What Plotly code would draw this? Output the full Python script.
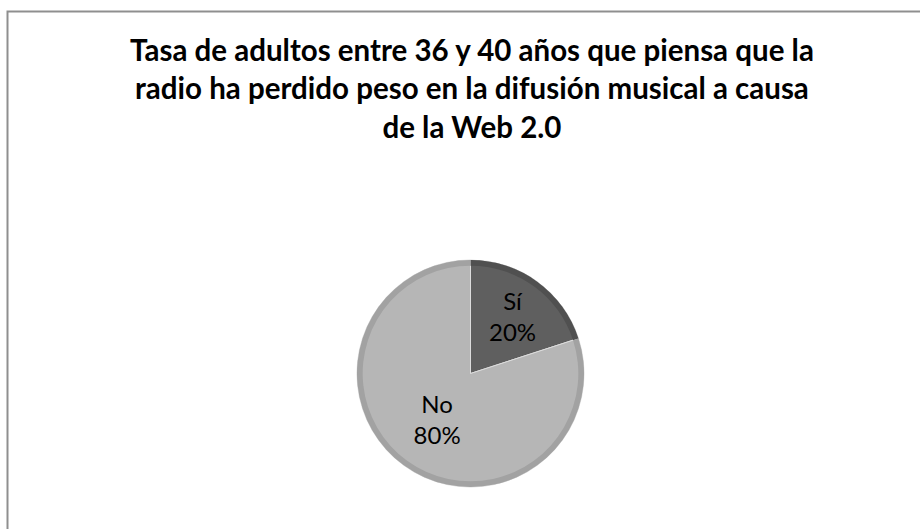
import plotly.graph_objects as go

# Survey answers: adults aged 36-40
respuestas = ["Sí", "No"]
porcentajes = [20, 80]
colores = ["#5f5f5f", "#b6b6b6"]
colores_borde = ["#505050", "#a2a2a2"]

titulo = ("Tasa de adultos entre 36 y 40 años que piensa que la<br>"
          "radio ha perdido peso en la difusión musical a causa<br>"
          "de la Web 2.0")

W, H = 920, 529
cx, cy, r = 470.5, 373.5, 113.5
dominio = dict(x=[(cx - r) / W, (cx + r) / W],
               y=[(H - cy - r) / H, (H - cy + r) / H])

fig = go.Figure()
fig.add_trace(go.Pie(
    labels=respuestas,
    values=porcentajes,
    sort=False,
    direction="clockwise",
    rotation=0,
    marker=dict(colors=colores, line=dict(color="#dcdcdc", width=1)),
    texttemplate="%{label}<br>%{percent:.0%}",
    textposition="inside",
    insidetextorientation="horizontal",
    textfont=dict(family="Lato", size=24, color="#000000"),
    showlegend=False,
    hoverinfo="skip",
    domain=dominio,
))
# slightly darker rim along the outer edge of each slice
fig.add_trace(go.Pie(
    labels=respuestas,
    values=porcentajes,
    sort=False,
    direction="clockwise",
    rotation=0,
    hole=0.95,
    marker=dict(colors=colores_borde, line=dict(width=0)),
    textinfo="none",
    showlegend=False,
    hoverinfo="skip",
    domain=dominio,
))

fig.update_layout(
    width=W, height=H,
    margin=dict(l=0, r=0, t=0, b=0),
    paper_bgcolor="#ffffff",
    plot_bgcolor="#ffffff",
    title=dict(
        text=titulo,
        x=0.513, xanchor="center",
        y=1 - 61 / H, yanchor="top",
        font=dict(family="Lato", size=29.5, color="#000000", weight="bold"),
    ),
    shapes=[dict(
        type="rect", xref="paper", yref="paper",
        x0=7.5 / W, x1=1.02, y0=-0.02, y1=1 - 11.5 / H,
        line=dict(color="#8f8f8f", width=2),
        fillcolor="rgba(0,0,0,0)",
    )],
)

fig.write_html("out.html")
